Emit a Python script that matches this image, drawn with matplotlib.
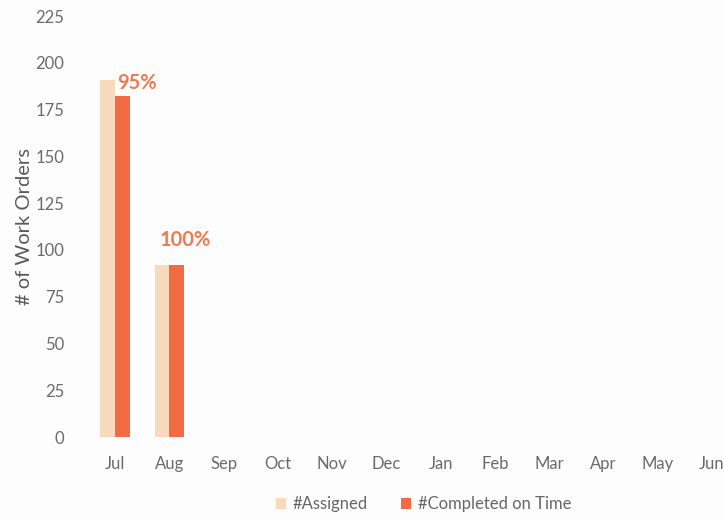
import matplotlib
matplotlib.use("Agg")
import matplotlib.pyplot as plt
import numpy as np

months = ["Jul", "Aug", "Sep", "Oct", "Nov", "Dec", "Jan", "Feb", "Mar", "Apr", "May", "Jun"]
assigned = [191, 92]
completed = [182, 92]
pct_labels = ["95%", "100%"]

plt.rcParams['font.family'] = ['Lato', 'DejaVu Sans']
fig = plt.figure(figsize=(7.24, 5.2), dpi=100)
fig.patch.set_facecolor("#fdfdfd")
ax = fig.add_axes([0.1215, 0.1596, 0.8995, 0.8096])
ax.set_facecolor("#fdfdfd")

x = np.arange(len(months))
w = 0.27
ax.bar(x[:len(assigned)] - w / 2, assigned, width=w, color="#F9D9BC", label="#Assigned")
ax.bar(x[:len(completed)] + w / 2, completed, width=w, color="#F26B45", label="#Completed on Time")

# label placement offsets (dx in category units, dy in data units)
offsets = [(0.03, 2, 'left'), (0.29, 8, 'center')]
for i, (lab, (dx, dy, ha)) in enumerate(zip(pct_labels, offsets)):
    ax.text(x[i] + dx, completed[i] + dy, lab, color="#F07A4E",
            fontsize=14.5, fontweight="bold", ha=ha, va="bottom")

ax.set_xlim(-0.5, len(months) - 0.5)
ax.set_ylim(0, 225)
ax.set_yticks(np.arange(0, 226, 25))
ax.set_xticks(x)
ax.set_xticklabels(months)
ax.tick_params(axis='both', length=0, labelsize=12, colors="#6a6a6a")
ax.tick_params(axis='y', pad=17)
ax.tick_params(axis='x', pad=14)
for s in ax.spines.values():
    s.set_visible(False)
ax.set_ylabel("# of Work Orders", fontsize=14.5, color="#595959", va='center')
ax.yaxis.set_label_coords(-0.097, 0.5)

fig.legend(loc="center", bbox_to_anchor=(0.585, 0.03), ncol=2, frameon=False,
           fontsize=12, labelcolor="#666666", handlelength=0.6, handleheight=0.6,
           handletextpad=0.4, columnspacing=2.0)

fig.savefig("out.png", dpi=100, facecolor=fig.get_facecolor())
